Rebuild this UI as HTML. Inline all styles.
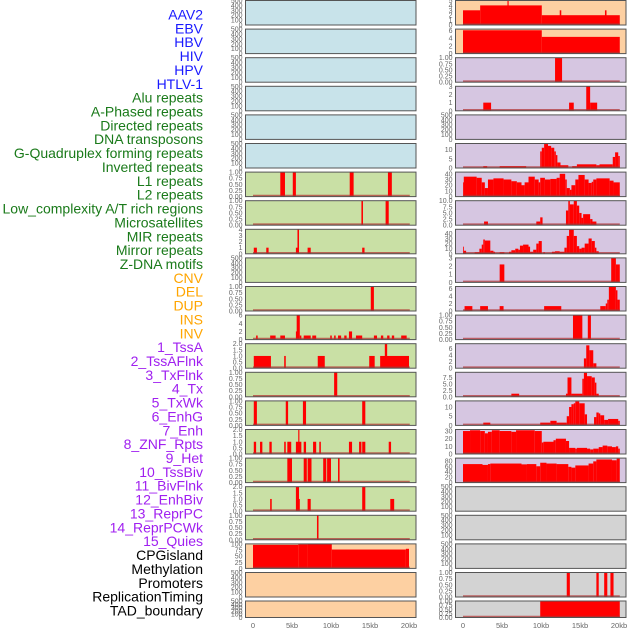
<!DOCTYPE html>
<html><head><meta charset="utf-8">
<style>
html,body{margin:0;padding:0;background:#fff;}
svg{display:block;font-family:"Liberation Sans",sans-serif;}
</style></head>
<body>
<svg id="chart" width="630" height="630" viewBox="0 0 630 630" xmlns="http://www.w3.org/2000/svg">
<g id="labels"></g>
<g id="panels"></g>
<g id="xaxes"></g>
</svg>
<script>
const labelNames = ["AAV2","EBV","HBV","HIV","HPV","HTLV-1","Alu repeats","A-Phased repeats","Directed repeats","DNA transposons","G-Quadruplex forming repeats","Inverted repeats","L1 repeats","L2 repeats","Low_complexity A/T rich regions","Microsatellites","MIR repeats","Mirror repeats","Z-DNA motifs","CNV","DEL","DUP","INS","INV","1_TssA","2_TssAFlnk","3_TxFlnk","4_Tx","5_TxWk","6_EnhG","7_Enh","8_ZNF_Rpts","9_Het","10_TssBiv","11_BivFlnk","12_EnhBiv","13_ReprPC","14_ReprPCWk","15_Quies","CPGisland","Methylation","Promoters","ReplicationTiming","TAD_boundary"];
const labelColors = ["#1a1aff","#1a7a1a","#ffa500","#a020f0","#000000"];
const labelGroups = [0,0,0,0,0,0,1,1,1,1,1,1,1,1,1,1,1,1,1,2,2,2,2,2,3,3,3,3,3,3,3,3,3,3,3,3,3,3,3,4,4,4,4,4];

const xTickValues = [0,5,10,15,20];
const xTickLabels = ["0","5kb","10kb","15kb","20kb"];

const T500 = ["0","100","200","300","400","500"];
const T1 = ["0.00","0.25","0.50","0.75","1.00"];
const T2 = ["0.0","0.5","1.0","1.5","2.0"];

// middle column
const midMax = [500,500,500,500,500,500,1,1,4,500,1,6,2,1,1,2,1,2,1,100,500,500];
const midTickVals = [
 [0,100,200,300,400,500],[0,100,200,300,400,500],[0,100,200,300,400,500],[0,100,200,300,400,500],[0,100,200,300,400,500],[0,100,200,300,400,500],
 [0,.25,.5,.75,1],[0,.25,.5,.75,1],[0,1,2,3,4],[0,100,200,300,400,500],[0,.25,.5,.75,1],[0,2,4,6],[0,.5,1,1.5,2],[0,.25,.5,.75,1],[0,.25,.5,.75,1],[0,.5,1,1.5,2],[0,.25,.5,.75,1],[0,.5,1,1.5,2],[0,.25,.5,.75,1],[0,25,50,75,100],[0,100,200,300,400,500],[0,100,200,300,400,500]];
const midTickLabels = [T500,T500,T500,T500,T500,T500,T1,T1,["0","1","2","3","4"],T500,T1,["0","2","4","6"],T2,T1,T1,T2,T1,T2,T1,["0","25","50","75","100"],T500,T500];
const midColors = ["#c8e3ea","#c8e3ea","#c8e3ea","#c8e3ea","#c8e3ea","#c8e3ea","#c9e0a5","#c9e0a5","#c9e0a5","#c9e0a5","#c9e0a5","#c9e0a5","#c9e0a5","#c9e0a5","#c9e0a5","#c9e0a5","#c9e0a5","#c9e0a5","#c9e0a5","#fdd0a2","#fdd0a2","#fdd0a2"];
const midSegs = [
 null,null,null,null,null,null,
 [[3.5,4.1,1],[5.1,5.5,1],[12.4,12.9,1],[17.3,17.8,1]],
 [[13.9,14.1,1],[17.0,17.4,1]],
 [[0.1,0.5,1],[1.7,2.0,1],[5.5,5.8,1],[5.7,5.9,4],[7.0,7.4,1],[14.0,14.3,1]],
 null,
 [[15.1,15.5,1]],
 [[0.4,0.6,1],[2.2,2.9,1],[3.5,4.1,1],[5.5,5.7,2],[5.6,6.0,6],[6.0,6.2,1],[6.5,7.4,1],[7.6,8.1,1],[9.9,10.1,1],[10.4,10.6,1],[10.9,11.3,1],[11.7,12.0,1],[12.3,12.7,2],[13.2,14.0,1],[15.5,15.9,1],[16.4,16.7,1],[17.2,17.5,1],[17.8,18.1,1],[19.0,19.7,1]],
 [[0.1,2.3,1],[4.0,4.2,1],[8.3,9.2,1],[14.9,15.6,1],[16.3,20.0,1],[16.9,17.2,2]],
 [[10.4,10.8,1]],
 [[0.1,0.5,1],[4.2,4.5,1],[6.4,6.8,1],[14.0,14.4,1]],
 [[0.1,0.4,1],[0.9,1.2,1],[2.1,2.4,1],[4.0,4.2,1],[4.4,4.9,1],[5.5,6.2,1],[5.8,5.95,2],[6.5,6.8,1],[7.7,8.1,1],[8.5,8.7,1],[12.3,12.7,1],[13.6,13.9,1],[14.0,14.4,1],[17.4,17.7,1]],
 [[4.4,5.0,1],[6.5,6.9,1],[7.0,7.5,1],[9.0,9.4,1],[9.5,10.0,1],[10.9,11.1,1]],
 [[2.2,2.4,1],[5.5,5.9,2],[5.9,6.0,1],[7.0,7.4,1],[14.0,14.4,2],[17.6,18.1,1]],
 [[8.2,8.4,1]],
 [[0,5.8,96],[5.8,7.0,98],[7.0,10.1,100],[10.1,19.6,77],[19.6,20.0,80]],
 null,null];

// right column
const rightMax = [5,6.3,1,3,500,13.3,43,10,48,3,6.5,1,7.5,9.5,13.3,32,90,500,500,500,1,1];
const rightTickVals = [
 [0,1,2,3,4,5],[0,2,4,6],[0,.25,.5,.75,1],[0,1,2,3],[0,100,200,300,400,500],[0,5,10],[0,10,20,30,40],[0,2.5,5,7.5,10],[0,10,20,30,40],[0,1,2,3],[0,2,4,6],[0,.25,.5,.75,1],[0,2,4,6],[0,2.5,5,7.5],[0,5,10],[0,10,20,30],[0,20,40,60,80],[0,100,200,300,400,500],[0,100,200,300,400,500],[0,100,200,300,400,500],[0,.25,.5,.75,1],[0,.25,.5,.75,1]];
const rightTickLabels = [["0","1","2","3","4","5"],["0","2","4","6"],T1,["0","1","2","3"],T500,["0","5","10"],["0","10","20","30","40"],["0.0","2.5","5.0","7.5","10.0"],["0","10","20","30","40"],["0","1","2","3"],["0","2","4","6"],T1,["0","2","4","6"],["0.0","2.5","5.0","7.5"],["0","5","10"],["0","10","20","30"],["0","20","40","60","80"],T500,T500,T500,T1,T1];
const rightColors = ["#fdd0a2","#fdd0a2","#d6c6e1","#d6c6e1","#d6c6e1","#d6c6e1","#d6c6e1","#d6c6e1","#d6c6e1","#d6c6e1","#d6c6e1","#d6c6e1","#d6c6e1","#d6c6e1","#d6c6e1","#d6c6e1","#d6c6e1","#d3d3d3","#d3d3d3","#d3d3d3","#d3d3d3","#d3d3d3"];
const rightSegs = [
 [[0,2.2,3],[2.2,10.1,4],[5.7,5.85,5],[10.1,20.1,2],[12.4,12.6,3],[18.2,18.4,3]],
 [[0,10.1,6],[10.1,20.1,4.3]],
 [[11.8,12.7,1]],
 [[2.6,3.6,1],[13.6,14.2,1],[15.8,16.3,3],[16.3,17.2,1]],
 null,
 [[2.6,3.1,1],[4.7,8.1,1],[9.9,10.1,9],[10.1,10.4,11],[10.4,10.9,13],[10.9,11.3,12],[11.3,11.7,11],[11.7,11.9,9],[11.9,12.1,7],[12.1,12.5,3],[12.5,13.5,1.5],[14.0,14.6,1],[14.6,17.1,2],[17.1,17.5,1.5],[17.5,19.2,2],[19.2,19.5,6],[19.5,19.9,8.5],[19.9,20.1,6.5]],
 [[0,0.1,25],[0.1,1.75,35],[1.75,2.4,33],[2.4,2.8,25],[2.8,3.2,15],[3.2,3.9,30],[3.9,5.2,32],[5.2,6.2,30],[6.2,6.9,27],[6.9,7.5,25],[7.5,7.9,20],[7.9,8.4,25],[8.4,9.2,35],[9.2,9.7,30],[9.7,9.9,25],[9.9,10.5,33],[10.5,11.2,30],[11.2,12.0,31],[12.0,12.4,33],[12.4,13.1,40],[13.1,13.3,30],[13.3,13.7,15],[13.7,13.9,12],[13.9,14.4,20],[14.4,14.8,30],[14.8,15.6,38],[15.6,16.1,30],[16.1,16.5,24],[16.5,16.7,26],[16.7,17.1,30],[17.1,18.8,32],[18.8,19.3,28],[19.3,20.1,25]],
 [[2.7,3.2,1.5],[9.4,9.9,1.5],[9.9,10.2,3.2],[13.2,13.5,6],[13.5,13.7,10],[13.7,14.2,8.5],[14.2,14.6,10],[14.6,14.9,8],[14.9,15.2,5],[15.2,15.4,3],[15.4,16.3,4.5],[16.3,16.6,2.5],[16.6,17.1,1.5]],
 [[0,0.1,14],[0.1,0.4,6],[1.5,2.1,3],[2.1,2.4,10],[2.4,2.6,18],[2.6,2.8,28],[2.8,3.5,26],[3.5,3.9,6],[3.9,4.1,4],[4.7,5.3,3],[5.9,6.2,4],[6.2,6.7,7],[6.7,7.1,10],[7.1,7.3,8],[7.3,7.7,16],[7.7,8.4,18],[8.4,8.6,14],[8.6,9.0,4],[9.0,9.4,8],[9.4,9.7,20],[9.7,10.1,25],[10.3,10.5,3],[11.4,11.8,4],[11.8,12.4,5],[12.4,13.0,4],[13.0,13.3,12],[13.3,13.6,35],[13.6,14.2,47],[14.2,14.6,35],[14.6,14.9,15],[14.9,15.2,10],[15.2,15.6,12],[15.6,16.1,20],[16.1,16.5,30],[16.5,16.9,25],[16.9,17.1,12],[17.1,17.4,5]],
 [[4.7,5.3,2.2],[19.0,19.6,3],[19.6,20.1,2.2]],
 [[0.2,1.2,1.3],[2.2,3.2,1.3],[4.7,5.2,1.3],[10.4,12.6,1.3],[17.6,18.3,1.3],[18.3,18.5,2],[18.5,18.7,3],[18.7,19.6,6.5],[19.6,19.8,5.5],[19.8,20.1,3]],
 [[14.1,15.3,1],[16.0,16.4,1]],
 [[15.5,15.8,3],[15.8,16.2,7],[16.2,16.7,5.5],[16.7,17.1,1.5]],
 [[6.2,7.2,1.2],[13.2,13.4,1.2],[13.4,13.9,7.5],[13.9,15.3,1.2],[15.3,15.5,7],[15.5,15.9,9.3],[15.9,16.5,8],[16.5,16.9,7.5],[16.9,17.1,5.5],[17.1,17.4,1.2]],
 [[2.6,3.5,1.5],[9.9,11.2,1.5],[11.2,12.0,2.5],[12.0,13.3,1.5],[13.3,13.6,5],[13.6,13.9,10],[13.9,14.2,11.5],[14.2,14.4,12],[14.4,14.9,13],[14.9,15.6,12],[15.6,15.9,6],[16.8,17.1,4.5],[17.1,17.4,7],[17.4,17.6,6.5],[17.6,18.1,5.5],[18.1,18.6,3],[18.6,19.9,3.5],[19.9,20.1,2.5]],
 [[0,0.9,30],[0.9,2.2,31],[2.2,2.8,30],[2.8,3.2,27],[3.2,3.7,29],[3.7,4.7,31],[4.7,6.2,30],[6.2,6.8,29],[6.8,9.2,31],[9.2,10.1,30],[10.1,10.3,15],[10.3,11.6,16],[11.6,11.9,18],[11.9,13.2,20],[13.2,13.6,17],[13.6,14.4,8],[14.4,14.6,7],[14.6,15.9,8],[15.9,16.3,7],[16.3,16.7,6],[16.7,17.4,7],[17.4,17.9,9],[17.9,18.5,11],[18.5,19.1,10],[19.1,19.6,9],[19.6,19.9,10],[19.9,20.1,7]],
 [[0,2.5,68],[2.5,3.2,65],[3.2,3.5,68],[3.5,7.5,70],[7.5,8.2,67],[8.2,9.4,68],[9.4,9.9,60],[9.9,10.7,73],[10.7,12.0,70],[12.0,13.5,68],[13.5,13.9,58],[13.9,14.4,55],[14.4,16.1,63],[16.1,16.7,70],[16.7,17.1,78],[17.1,19.1,85],[19.1,19.7,82],[19.7,20.1,88]],
 null,null,null,
 [[13.3,13.7,1],[17.1,17.4,1],[18.1,18.5,1],[18.9,19.3,1]],
 [[9.9,20.1,1]]];

const NS = "http://www.w3.org/2000/svg";
function mk(tag, attrs, parent){const e=document.createElementNS(NS,tag);for(const k in attrs)e.setAttribute(k,attrs[k]);parent.appendChild(e);return e;}

const labelsG = document.getElementById('labels');
labelNames.forEach((name,i)=>{
  const t = mk('text',{x:203,y:19.5+i*13.86,'text-anchor':'end','font-size':14,fill:labelColors[labelGroups[i]]},labelsG);
  t.textContent = name;
  
  
});

function rowTop(i){return i<21 ? 0.5+28.6*i : 601;}
function rowH(i){return i<21 ? 24.5 : 16.5;}

const cols = [
  {x0:245.5, x1:416, zeroX:253, segs:midSegs, maxes:midMax, tv:midTickVals, tl:midTickLabels, colors:midColors, name:'middle'},
  {x0:455.5, x1:626, zeroX:463, segs:rightSegs, maxes:rightMax, tv:rightTickVals, tl:rightTickLabels, colors:rightColors, name:'right'}
];
const kbPx = 7.8;
const panelsG = document.getElementById('panels');
const xaxesG = document.getElementById('xaxes');

cols.forEach(c=>{
  const xs = kb => c.zeroX + kb*kbPx;
  for(let i=0;i<22;i++){
    const top=rowTop(i), h=rowH(i), bot=top+h, max=c.maxes[i];
    const ys = v => bot - v/max*h;
    const g = mk('g',{},panelsG);
    
    
    mk('rect',{x:c.x0,y:top,width:c.x1-c.x0,height:h,fill:c.colors[i]},g);
    const segs = c.segs[i];
    if(segs){
      segs.forEach(s=>{
        const r = mk('rect',{x:xs(s[0]),y:ys(s[2]),width:Math.max(0.8,xs(s[1])-xs(s[0])),height:bot-ys(s[2]),fill:'#ff0000'},g);
        
        
      });
      mk('line',{x1:xs(0),x2:xs(20.1),y1:bot-1,y2:bot-1,stroke:'#b03030','stroke-width':1.6,'stroke-opacity':0.7},g);
    }
    mk('rect',{x:c.x0,y:top,width:c.x1-c.x0,height:h,fill:'none',stroke:'#555','stroke-width':1},g);
    c.tv[i].forEach((v,k)=>{
      const t = mk('text',{x:c.x0-3,y:ys(v)+2.5,'text-anchor':'end','font-size':7,fill:'#666'},g);
      t.textContent = c.tl[i][k];
      
      
    });
  }
  xTickValues.forEach((v,k)=>{
    const t = mk('text',{x:xs(v),y:628,'text-anchor':'middle','font-size':7.5,fill:'#666'},xaxesG);
    t.textContent = xTickLabels[k];
    
    
  });
});
</script>
</body></html>
